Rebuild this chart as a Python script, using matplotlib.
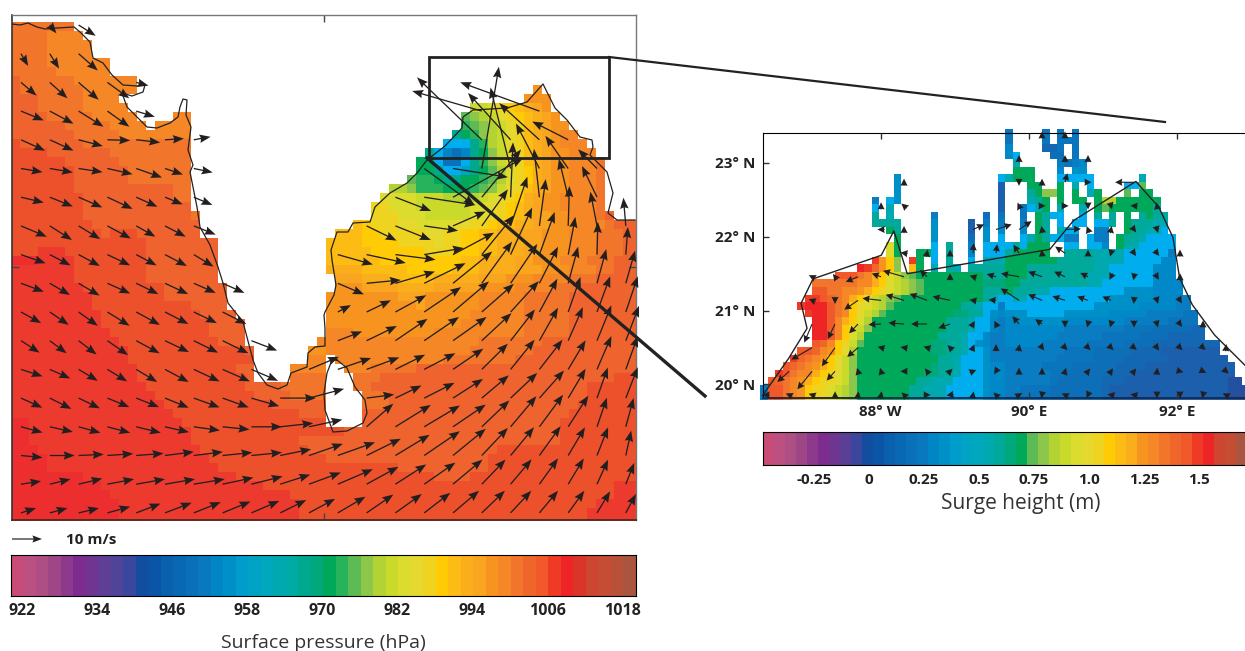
import numpy as np
import matplotlib
matplotlib.use("Agg")
import matplotlib.pyplot as plt
from matplotlib.colors import ListedColormap, BoundaryNorm
from matplotlib.patches import Rectangle

plt.rcParams["font.family"] = ["Open Sans", "DejaVu Sans"]

W, H = 1245, 651
_ = np.nan
CODES = "0123456789abcdefghijklmnopqrstuvwxyzABCDEFGHIJKLMN"

# colour steps of the two bars
pressure_colors = ["#c84b78", "#bc5080", "#ad4f85", "#9e4686", "#8e3a8c", "#7f2c8f", "#6e3591", "#5f3f95", "#4f4498", "#3a479c",
                   "#134da0", "#0a55a5", "#0a60ad", "#0868b3", "#0a70ba", "#0a78be", "#0085c5", "#0090c8", "#009ccc", "#00a3c4",
                   "#00a8bd", "#00a9b0", "#00aaa5", "#00a88e", "#00a87c", "#00a85a", "#27b25c", "#5dbb55", "#8cc64a", "#b3d335",
                   "#c9da2a", "#dcdc2f", "#e5d92f", "#eed420", "#ffcb05", "#fdbc13", "#fbae1c", "#f9a51f", "#f79420", "#f58727",
                   "#f1752b", "#ef662b", "#f1592a", "#ef3a26", "#ee2527", "#db3429", "#cc4630", "#c44d33", "#b9503a", "#a95540"]
surge_colors = ["#c84b78", "#bc5080", "#ad4f85", "#9e4686", "#8e3a8c", "#7f2c8f", "#6e3591", "#5a3f95", "#3a479c", "#134da0",
                "#0a55a5", "#0a60ad", "#0868b3", "#0a70ba", "#0a78be", "#0085c5", "#0090c8", "#009ccc", "#00a3c4", "#00a8bd",
                "#00a9b0", "#00a99a", "#00a87c", "#00a85a", "#5dbb55", "#8cc64a", "#b3d335", "#c9da2a", "#dcdc2f", "#e5d92f",
                "#eed420", "#ffcb05", "#fdbc13", "#fbae1c", "#f79420", "#f58727", "#f1752b", "#ef662b", "#f1592a", "#ef3a26",
                "#ee2527", "#cc4630", "#c44d33", "#a95540"]
pressure_ticks = [922, 934, 946, 958, 970, 982, 994, 1006, 1018]
surge_ticks = [-0.25, 0, 0.25, 0.5, 0.75, 1.0, 1.25, 1.5]
surge_tick_labels = ["-0.25", "0", "0.25", "0.5", "0.75", "1.0", "1.25", "1.5"]

# surface pressure steps per row, letter = colour step, number = run of cells, @n = jump to column n
pressure_rows = [
    "E7", "E4 D4", "E4 D5", "E4 D5", "E4 D7", "E5 D6", "F1 E6 D7",
    "F1 E7 D6 @58 C1",
    "F3 E5 D4 @57 C3",
    "F3 E5 D5 @51 u2 v1 x1 y1 z1 A1 B1 C1",
    "F4 E5 D5 @18 D2 @50 r1 s1 t1 u1 w1 x1 y1 z1 A1 B1 C1",
    "F6 E5 D4 @16 D4 @50 q1 r1 s1 t1 u1 w1 x1 z1 A1 B1 C2",
    "F7 E5 D8 @49 n1 p1 q1 s1 t1 u1 w1 x1 z1 A1 B1 C1 D2",
    "G1 F7 E12 @48 h3 n1 q1 t1 u1 w1 x1 z1 A1 B1 C1 D3",
    "G4 F7 E9 @46 n1 h1 g1 e1 g1 n1 p1 s1 u1 w1 x1 z1 A1 B1 C2 D3",
    "G6 F6 E8 @45 p2 h1 e2 h1 n1 q1 s1 u1 w1 x1 z1 A1 B1 C2 D3 E1",
    "G7 F6 E7 @45 p2 n1 h2 j1 n1 p1 r1 t1 v1 x1 y1 A1 B1 C2 D3 E1",
    "G7 F6 E7 @44 r1 q2 p1 n2 p2 q1 r1 t1 v1 x1 y1 A1 B1 C2 D3 E1",
    "G7 F11 E2 @42 t2 s1 q3 p3 q1 r1 s1 u1 w1 x1 z1 A1 B1 C2 D3 E1",
    "G8 F10 E2 @41 v4 u3 t4 u1 v1 w1 x1 y1 A1 B1 C2 D4 E1",
    "G8 F12 @40 x2 v3 u6 v2 w1 x1 y1 z1 A1 B1 C2 D4 E1",
    "G8 F12 E1 @40 x3 v3 u5 v2 w1 x1 y1 z1 A1 B2 C2 D3 E1 F1",
    "G9 F12 @38 z1 y1 x3 w2 v4 w2 x2 y1 z2 A2 B2 C3 D3 E1 F3",
    "G10 F1 G3 F7 @36 z3 y2 x5 w2 x2 y2 z2 A2 B3 C3 D3 E3 F2",
    "G15 F8 @35 z4 y4 x4 w1 x2 y2 z2 A3 B2 C3 D3 E3 F2",
    "G3 H3 G9 F8 @35 z5 y6 x3 y3 z2 A3 B2 C3 D3 E3 F2",
    "I3 H4 G8 F8 @35 z6 y9 z2 A4 B2 C3 D3 E3 F3",
    "H7 G8 F8 @35 A4 z5 y5 z3 A4 B3 C3 D3 E2 F3",
    "H7 G8 F8 @36 B3 A3 z5 A5 B3 C3 D4 E3 F5",
    "H8 G9 F7 @36 C3 B4 A4 B5 C4 D4 E3 F7",
    "H9 G8 F7 @35 C8 B3 C6 D5 E5 F8",
    "H9 G11 F4 @35 C10 B1 C6 D5 E5 F8",
    "H10 G11 F4 @35 C16 D6 E5 F8",
    "H10 G12 F4 @35 C15 D7 E5 F8",
    "H11 G11 F4 @35 D3 C9 D10 E5 F8",
    "H12 G11 F3 @34 D18 E7 F11",
    "H13 G13 F1 @33 C2 D16 E7 F12",
    "H13 G14 @33 D2 @36 D12 E8 F14",
    "H14 G11 F2 @31 D4 @37 D3 E5 F25",
    "H14 G12 F1 @31 E4 @38 E3 F26 G3",
    "H15 G11 F4 E5 @38 E2 F24 G6",
    "H16 G11 F4 E4 @39 E3 F22 G6",
    "H17 G12 F6 @39 E3 F21 G7",
    "H18 G14 F3 @39 F23 G8",
    "I2 H17 G16 @39 F22 G9",
    "I2 H18 G17 F24 G9",
    "I2 H18 G12 F29 G9",
    "I3 H18 G12 F21 G16",
    "I4 H18 G13 F18 G17",
    "I4 H19 G20 F10 G17",
    "I8 H17 G22 F4 G19",
    "I10 H18 G39 H3",
    "I11 H20 G36 H3",
    "I12 H20 G33 H5",
    "I12 H20 G32 H6",
    "I12 H20 G32 H6",
]

# surge height steps per row, same coding
surge_rows = [
    "@33 d1 @38 d1 @40 d1 @42 d1",
    "@33 d1 @38 d1 @40 d3",
    "@33 f1 @38 b2 @40 d1 @42 d1",
    "@33 f1 h1 @39 c2 @42 d1",
    "@34 k1 @40 e1 d1 e1 f1",
    "@34 n3 @40 f1 @42 g2",
    "@18 g1 @32 h1 k1 n3 @40 h5 @51 k1",
    "@18 g1 @32 a1 @36 n2 @40 n1 @42 k1 @44 h1 @49 h2 o1",
    "@18 g1 @32 a1 @36 l1 n1 p2 n1 @42 n1 @44 k1 n1 @49 o1 @51 n2",
    "@15 e1 @17 h1 g1 @32 a1 @36 k1 l1 n1 @40 n1 @42 n2 @45 n1 q2 n6",
    "@15 h1 @17 k1 @32 a1 @35 d1 h1 k1 n1 @40 k1 @43 k1 @45 n1 o1 n6 l1",
    "@15 l1 @17 k1 @23 e1 @30 c1 @32 d1 @35 d1 @37 n1 l1 h2 @43 h1 @45 l1 @47 l1 @49 n1 @51 l1 n1 l2",
    "@15 l4 @23 g1 @28 a1 @30 e1 @32 e1 @35 e1 @37 n1 l1 @40 h1 @42 h2 @45 h2 l1 @49 n1 l3 k2",
    "@17 n1 l1 @23 g1 @28 a1 @30 g1 @32 f1 @35 f1 @37 n1 l1 @40 k1 h2 @45 e2 @49 n1 l2 k2 h1",
    "@18 n1 @23 g1 @28 c1 @30 g1 @32 h1 @35 h1 k1 n1 l1 h2 e2 @44 h1 e2 @48 n1 l2 k1 h4",
    "@17 s1 n1 @23 h1 @25 l1 @28 e1 @30 h4 l1 h1 n3 @41 h2 @44 h2 f1 @48 n1 l1 k1 h5",
    "@17 s1 n1 @21 n2 h1 @25 l1 @28 f1 @30 h3 l1 n5 @41 l4 k4 h6 e1",
    "@15 D1 y1 v1 p1 @20 D1 n1 @23 h1 @25 l1 @28 h1 @30 k3 n7 l5 k4 h5 f2",
    "@13 E1 D1 B1 y1 v1 p1 @20 w1 n1 @23 k1 @25 l1 k1 @28 l5 n3 l9 k2 h6 f3",
    "@10 C3 A1 z1 x1 v1 t1 r1 p1 o1 n9 l3 n3 l8 k3 h6 f3",
    "@7 A6 z2 x1 v1 s1 r1 q1 p1 o1 n8 m3 n2 l9 k2 h7 f4",
    "@7 C2 A2 z2 y1 x1 v1 u1 s1 r1 q1 p1 o1 n8 l3 n1 l3 k2 h10 g4 f4",
    "@6 D2 C1 B1 A1 z1 x1 v1 t1 r1 q1 p1 o1 n11 l1 k1 h2 k2 h11 g6 f3 e2",
    "@5 D1 E3 C1 A1 z1 v1 t1 s1 r1 q1 o1 n9 l2 k1 h2 e1 h12 g6 f5 e2",
    "@6 D1 E2 C1 A1 z1 v1 t1 r1 q1 o1 n9 m2 l2 h1 g1 f1 g3 h5 g6 f5 e5 d2",
    "@7 E2 C1 z1 x1 v1 s1 q1 n10 l3 k1 h2 f1 e1 f2 g6 f8 e6 d4",
    "@7 E2 C1 z1 v1 t1 r1 p1 n10 l3 k1 h2 f1 e1 f8 e8 d4 c5 b2",
    "@7 E2 C1 z1 v1 s1 q1 n10 l3 k1 h2 f1 e2 f7 e6 d5 c4 b5",
    "@7 C1 B1 z1 v1 u1 r1 o1 n9 m2 l2 k1 h1 g1 f1 e2 f5 e6 d5 c4 b9",
    "@5 C2 B1 z1 y1 v1 t1 q1 n10 m2 l2 k1 h2 g1 e2 e8 d4 c5 b4 a8",
    "@4 D1 B1 A1 z1 y1 v1 t1 r1 p1 n11 l2 k1 h3 g1 e2 e7 d5 c4 b6 a8",
    "@3 C1 B1 A1 z1 y1 x1 v1 t1 r1 p1 n10 m1 l2 k1 h3 g1 f2 e5 d4 c6 b4 a12",
    "@2 D1 C1 A1 z2 x1 v1 u1 s1 r1 p1 n9 m2 l2 k1 h3 g1 f2 e6 d2 c6 b3 a14",
    "@1 C1 B1 A1 z1 y1 x1 v1 u2 s1 r1 p1 n8 l2 k3 h4 g1 f2 e6 d1 c6 b3 a14 92",
    "@0 e1 C2 A1 z1 y1 v1 u2 s1 r1 q1 p1 n7 l2 k3 h5 g1 f2 e2 d4 c7 b1 a16 93",
    "@0 e1 C2 A1 z1 y1 v1 u2 s1 r1 q1 p1 n7 l2 k3 h5 g1 f2 e2 d4 c7 b1 a16 93",
]

# wind on the large map, m/s, 18 rows of 22
wind_u = [
    [_, 2.2, 5.7] + [_]*19,
    [2.4, 3.1, 6.4] + [_]*19,
    [5.2, 5.9, 6.7, 7.3, 4.1] + [_]*17,
    [7.6, 7.9, 8.3, 7.3, 6.2] + [_]*11 + [-23.2, _, -26.4, _, _, _],
    [8, 7.9, 8.1, 7.6, 8, 6.3, 5.6] + [_]*9 + [-21.6, -14.2, -13.4, -12, _, _],
    [7.2, 7.7, 8, 8.4, 8.6, 6, 6.3] + [_]*7 + [16.8, 18.3, 5.7, -6.7, -7.8, -7.6, -6.3, _],
    [7.6, 7.7, 7.9, 8.4, 7.1, 5.9, 6.2] + [_]*6 + [11.9, 17.1, 23.3, 13.1, 0.8, -1.8, -3.1, -5, _],
    [8.6, 7.4, 7.2, 7.8, 6.4, 6.9, 7.3] + [_]*5 + [10, 11.8, 11.3, 10.9, 8.7, 5.6, 2.1, 0.4, -2.2, -0.8],
    [8.2, 6.9, 7.1, 7.6, 6.8, 7.3, 6.6] + [_]*4 + [11.7, 13.1, 13.4, 13.2, 13.7, 10.7, 7.2, 5.1, 2.4, 0.3, 0.7],
    [7.6, 6.7, 7, 7.6, 7.4, 7.7, 7.3, 7.3] + [_]*3 + [8.7, 11.4, 13.2, 13.8, 13.1, 10.1, 8.9, 6.2, 3.3, 3.1, 3.1],
    [6.7, 6.3, 6.4, 7.4, 7.9, 7.8, 7.7, 7.9] + [_]*3 + [4.4, 8.1, 10.3, 12.3, 12, 10.7, 9.4, 6, 4.1, 4.4, 4],
    [6.2, 5.6, 6, 6.9, 7.8, 8, 8.1, 8.6, 8.6, _, _, 8.1, 10.1, 10.7, 11.6, 11.2, 9.9, 8.1, 6.2, 4.9, 4.8, 4.4],
    [7.2, 6.8, 6.4, 6.6, 7, 7.9, 8.6, 9.1, 8.9, _, 10, 11.1, 10.9, 9.9, 10.4, 10.1, 8.7, 8, 7.7, 5.8, 4.8, 4],
    [7.1, 7.2, 7.1, 7.3, 7.6, 7.9, 8.6, 8.7, 9.3, 11.9, 11.7, _, 9.2, 8.7, 10.1, 10, 9, 8.9, 8.2, 5.8, 3.6, 4],
    [7.2, 7.7, 7.3, 7.6, 8.2, 8, 8.7, 9, 10.2, 11, 11.1, _, 8.9, 11.8, 11.9, 10.9, 9.2, 8.6, 7.9, 6.7, 3.3, 2.6],
    [7.2, 8.3, 8.4, 8.6, 9.1, 9.6, 9.7, 9.9, 10.2, 10.3, 11.3, 12.4, 11.4, 11.4, 11.9, 10.9, 8.7, 7.8, 7.1, 5.6, 3.7, 1.8],
    [6.7, 6.9, 7.9, 8.9, 9.6, 10, 10.3, 10.3, 10.4, 10, 10.6, 11.7, 10.6, 10.3, 10.4, 9.8, 7.9, 7, 6.2, 5.2, 3.7, 2.8],
    [5, 5.9, 6.8, 7.6, 8.1, 8.9, 9, 9.3, 9.3, 8.7, 8.7, 9.2, 8.9, 8.8, 8.7, 8.7, 7.7, 6.9, 6.2, 5.4, 4.4, 3.4],
]
wind_v = [
    [_, -2.8, -3.6] + [_]*19,
    [-4.1, -5, -5.6] + [_]*19,
    [-4.4, -5.3, -5.8, -5.3, -1.1] + [_]*17,
    [-3.1, -4.2, -5.2, -5.2, -1.9] + [_]*11 + [6.7, _, 9.6, _, _, _],
    [-3.6, -3.6, -2.1, -0.2, -0.9, 0.4, 1] + [_]*9 + [20.8, 15.6, 12.2, 6.1, _, _],
    [-1.2, -1.3, -1.2, -1.9, -3, -2, -1.3] + [_]*7 + [-12.2, -2.9, 33.9, 27, 15, 10.9, 6.4, _],
    [-1.8, -3.1, -3.4, -3.9, -3.2, -2.4, -2.6] + [_]*6 + [-4.6, -2.6, 13, 15.9, 18.3, 16.1, 12.8, 10.4, _],
    [-3.6, -4.7, -4.4, -4.2, -3.6, -3.6, -2.9] + [_]*5 + [-4.9, -4.7, -1.6, 4.8, 12.2, 16.4, 15.6, 13.3, 11.4, 9.4],
    [-2.9, -3.6, -3.8, -3.6, -3.6, -3.8, -4] + [_]*4 + [-3.3, -2.8, -1.7, 2.2, 7.3, 13.1, 15.7, 14.2, 12.6, 10.9, 9.2],
    [-2.8, -3.9, -4.1, -3.4, -3.6, -3.6, -3.2, -3.2] + [_]*3 + [-3.7, 1.1, 3.9, 6.7, 10.6, 13.9, 13.1, 12.2, 12.2, 11.4, 10.9],
    [-3.7, -4.3, -4.6, -4.6, -4.3, -4, -3.7, -4] + [_]*3 + [2.3, 3.9, 5.6, 8.3, 10.2, 9.4, 10.3, 11.1, 11.7, 11.9, 11.9],
    [-4, -4.2, -4.6, -4.8, -4.2, -3.8, -4, -4.2, -3.3, _, _, 3.1, 4.9, 7.3, 7.9, 7.9, 9.2, 10.4, 11, 11.2, 11.8, 11.6],
    [-2.3, -3, -3.8, -4, -4.2, -4.2, -4, -4, -3.8, _, 4.2, 3.8, 4, 4.9, 5.4, 6.9, 8.6, 9.9, 9.9, 9.7, 11.1, 11.1],
    [-3.2, -3.6, -3.4, -3, -3, -3.2, -3.1, -3.1, -2.7, 0, 3.1, _, 1.2, 4.2, 5.1, 6.4, 7.6, 8.4, 9.2, 9.8, 10.2, 10.3],
    [-1.9, -1.7, -2, -2, -2, -1.8, -1.2, -0.9, 0, 1.2, 2.4, _, 7.7, 7.3, 7.1, 7.4, 8.8, 10.2, 10.7, 10.4, 9.7, 9.6],
    [-0.7, 0, 0.4, 0.6, 0.7, 1.2, 1.2, 1, 1, 2.1, 3.9, 4.4, 5.6, 6.9, 8.1, 8.9, 9.2, 9.4, 9.8, 9.4, 9.4, 8.3],
    [1, 1.7, 1.9, 1.7, 1.7, 1.7, 1.7, 2.2, 2.6, 3.2, 3.9, 5, 5.8, 6.6, 7.2, 8.2, 8.2, 8.3, 8.6, 8.6, 8.2, 7.1],
    [1.6, 1.6, 1.6, 2.1, 3.1, 3.4, 3.6, 3.8, 4, 4.3, 4.7, 5.4, 6.1, 6.3, 6.7, 7.4, 7.4, 7.4, 7.4, 7.4, 7.2, 6.3],
]

# wind on the inset, m/s, 12 rows of 21
inset_u = [
    [_]*12 + [0, 0] + [_]*7,
    [_]*11 + [0, _, 0, 0] + [_]*6,
    [_]*6 + [0] + [_]*4 + [0, 0, 0.8, 1, _, -6.3, _, _, _, _],
    [_]*5 + [0, -0.8] + [_]*4 + [-0.5, 1, 1, 0, 0.3, -1.1, -0.2, _, _, _],
    [_]*5 + [-1.2, 0, _, _, 3.7, 5.2, 4.2, -0.2, 5.3, -0.4, 0.2, 0.6, 0.3, _, _, _],
    [_]*6 + [-1.2, 0.2, 0, 0.2, 0.4, -1.9, -0.1, -3.3, 0, -0.3, 0.7, 0.7, 0, _, _],
    [_, _, -1, -0.6, -4.1, -3.1, -7, -2.4, 0, -1, -3.1, -6, -4.6, -3.6, -2.6, -0.5, -0.2, 0.6, 0, _, _],
    [_, _, -0.8, 0, -4.6, -6.2, -6.1, -5.8, -5.8, -1.7, -2.5, -6.1, -4.6, -4.2, -3.6, -2.9, -0.1, 0.3, 0.6, _, _],
    [_, _, -2.6, -2.4, -3, -4.2, -5.2, -5.3, -3.9, 0.6, -0.5, -2.2, -2.3, 0, -0.3, -0.3, 0, 0.3, 0.7, 0, _],
    [_, _, -6.9, -4.4, -3.6, -1.2, -1.2, -1.1, -0.8, 0.4, 0, 0.2, 0.6, 0.8, 0.8, 0.8, 0.9, 0.7, 0.8, 0.9, 0.1],
    [_, -3.9, -4.9, -2.8, -0.3, -0.3, -1.2, -0.6, 0.8, 1, -0.6, 0, 0, 0.3, 0.7, 0.6, 0.7, 0.1, 0.7, 0.9, 0.9],
    [-1.2, -1.2, -1.2, 0, 0.1, 0.2, -0.9, 1.2, -1.2, 0.2, -0.8, 1, -0.2, -1, -0.4, -1.1, -1.1, 0, 0, -0.3, -1],
]
inset_v = [
    [_]*12 + [1.2, 1.2] + [_]*7,
    [_]*11 + [1.2, _, 1.2, 1.2] + [_]*6,
    [_]*6 + [1.2] + [_]*4 + [-1.2, 1.2, 3, 0, _, 0, _, _, _, _],
    [_]*5 + [1.2, 0.7] + [_]*4 + [1.1, 0, 0, -1.2, -1, 0.1, 1.1, _, _, _],
    [_]*5 + [0, 1.2, _, _, 1.7, 1.7, 2.8, 1.1, 0.2, 1, 1.1, -0.8, -1, _, _, _],
    [_]*6 + [0.2, 1, 1.2, 3.3, 3, 2.8, 1.2, 2.2, 1.2, -1.1, -1, -0.9, 1.2, _, _],
    [_, _, 0.5, 0.8, -1.7, 1.1, 2, 2.2, 1, 0.3, 0.9, 1.1, 1.7, 1.7, 1.3, -1, -1, -1, 1.2, _, _],
    [_, _, 0.3, -1.2, -3.1, 0.7, 1.9, 2.2, 1.3, 0.3, 0.2, 4, 2, 1.4, 1.3, 1.3, -1.1, -1, -1, _, _],
    [_, _, -6.2, -5, -3.1, -0.2, 0.4, 0, -1.4, 1, 1, 2.6, 1.6, -1.1, -1.1, -1, -1.1, -1.1, -0.9, 1.2, _],
    [_, _, -4, -6.2, -3.1, 0.3, 0.2, 0.3, 0.8, 1, 1.2, 1.2, -0.8, -0.8, -0.8, -0.8, -0.7, -0.9, -0.8, -0.8, 1.2],
    [_, -3.6, -6, -3.1, 1, 1, 0, 0.8, 0.8, 0.4, -0.9, 1.2, 1.2, 1, 0.9, 0.9, 0.9, 1.2, -0.2, -0.4, -0.8],
    [0, 0.5, 0.4, 1.2, 1.2, 1.2, 0.9, 0, -0.2, 1.2, 0.8, 0.6, -1.2, 0.5, -1, 0.2, 0.2, -1.2, -1.2, -1.2, 0.5],
]

# coast lines
coast_x = [12, 20, 28, 37, 45, 57, 74, 80, 90, 93, 103, 112, 123, 137, 145, 143, 132, 122, 127, 137, 147, 157, 170, 178, 180, 183,
           187, 186, 191, 188, 193, 190, 197, 200, 210, 218, 223, 228, 243, 253, 258, 267, 278, 287, 291, 307, 308, 315, 325, 325,
           324, 325, 334, 336, 332, 331, 337, 348, 353, 370, 375, 390, 407, 417, 427, 445, 462, 463, 473, 507, 527, 543, 555, 567,
           580, 592, 593, 590, 607, 613, 608, 617, 635]
coast_y = [24, 25, 23, 27, 29, 28, 27, 32, 42, 58, 63, 75, 85, 86, 85, 92, 96, 93, 107, 117, 127, 128, 123, 117, 107, 99,
           100, 115, 127, 150, 165, 172, 207, 227, 245, 267, 283, 303, 322, 360, 373, 385, 389, 385, 373, 367, 353, 347, 346, 328,
           315, 312, 295, 285, 260, 250, 232, 232, 223, 222, 207, 193, 183, 173, 160, 146, 128, 117, 110, 108, 102, 84, 108, 120,
           137, 140, 147, 155, 172, 193, 213, 220, 220]
lanka_x = [337, 347, 355, 365, 367, 363, 347, 333, 325, 324, 327, 332, 337]
lanka_y = [360, 368, 387, 400, 413, 423, 431, 432, 410, 393, 373, 360, 360]
inset_coast_lon = [86.41, 86.76, 87.01, 86.93, 87.09, 88.01, 88.18, 88.36, 90.28, 90.60, 91.44, 91.75, 91.94, 92.03, 92.20, 92.50, 92.91]
inset_coast_lat = [19.85, 20.35, 20.76, 21.10, 21.43, 21.75, 22.08, 21.50, 21.83, 22.22, 22.75, 22.40, 21.99, 21.44, 21.08, 20.67, 20.26]


def parse_rows(rows, n_cols):
    grid = np.full((len(rows), n_cols), np.nan)
    for r, row in enumerate(rows):
        c = 0
        for tok in row.split():
            if tok[0] == "@":
                c = int(tok[1:])
            else:
                n = int(tok[1:])
                grid[r, c:c + n] = CODES.index(tok[0])
                c += n
    return grid


def px_axes(l, t, r, b):
    return fig.add_axes([l / W, 1 - b / H, (r - l) / W, (b - t) / H])


fig = plt.figure(figsize=(W / 100, H / 100), dpi=100)

# large map
press_edges = 920.24 + 2.0 * np.arange(51)
map_press_colors = list(pressure_colors)
map_press_colors[17] = "#00aeef"
map_press_colors[41] = "#ef642e"
map_press_colors[42] = "#ec512b"
map_press_colors[43] = "#ec3a2e"
map_press_colors[44] = "#ed2e2e"
press_cmap = ListedColormap(map_press_colors)
press_norm = BoundaryNorm(press_edges, 50)

ax = px_axes(12, 15, 636, 520)
ax.set_xlim(12, 636)
ax.set_ylim(520, 15)
press = press_edges[0] + 1 + 2 * parse_rows(pressure_rows, 70)
ax.pcolormesh(11 + 9.0 * np.arange(71), 22 + 9.0 * np.arange(len(pressure_rows) + 1),
              np.ma.masked_invalid(press), cmap=press_cmap, norm=press_norm, linewidth=0)
ax.plot(coast_x, coast_y, color="#222222", lw=0.9, zorder=3)
ax.plot(lanka_x, lanka_y, color="#222222", lw=0.9, zorder=3)
qx, qy = np.meshgrid(21 + 28.8 * np.arange(22), 25 + 28.7 * np.arange(18))
ax.quiver(qx, qy, np.array(wind_u), np.array(wind_v), angles="uv", scale_units="dots", scale=1 / 3, units="dots",
          width=1.3, headwidth=6.5, headlength=8.5, headaxislength=7.5, minshaft=0.05, minlength=0,
          color="#231f20", zorder=4, clip_on=False)
ax.set_xticks([324])
ax.set_yticks([267])
ax.tick_params(direction="in", length=5, width=1, top=True, right=True, labelleft=False, labelbottom=False, color="#444444")
for side, col, lw in [("left", "#333333", 1.2), ("bottom", "#5a2a20", 1.4), ("top", "#777777", 1.0), ("right", "#777777", 1.0)]:
    ax.spines[side].set_color(col)
    ax.spines[side].set_linewidth(lw)

# inset
surge_edges = -0.482 + 0.05 * np.arange(45)
map_surge_colors = list(surge_colors)
map_surge_colors[9] = "#24509f"
map_surge_colors[10] = "#1c5fac"
map_surge_colors[11] = "#1468b3"
map_surge_colors[12] = "#0d6fb8"
map_surge_colors[13] = "#0a75bc"
map_surge_colors[14] = "#0a7cc1"
map_surge_colors[15] = "#0088c9"
map_surge_colors[17] = "#00aeef"
surge_cmap = ListedColormap(map_surge_colors)
surge_norm = BoundaryNorm(surge_edges, 44)

ins = px_axes(762.5, 133, 1245, 398)
ins.set_xlim(86.41, 92.91)
ins.set_ylim(19.817, 23.406)
surge = surge_edges[0] + 0.025 + 0.05 * parse_rows(surge_rows, 66)
ins.pcolormesh(86.382 + 0.0999 * np.arange(67), 23.46 - 0.1019 * np.arange(len(surge_rows) + 1),
               np.ma.masked_invalid(surge), cmap=surge_cmap, norm=surge_norm, linewidth=0, clip_on=False)
ins.plot(inset_coast_lon, inset_coast_lat, color="#222222", lw=1.0, zorder=3, clip_on=False)
ix, iy = np.meshgrid(86.458 + 0.3098 * np.arange(21), 23.379 - 0.32 * np.arange(12))
iu, iv = np.array(inset_u), np.array(inset_v)
speed = np.hypot(iu, iv)
# below this speed the arrow is only its head, so draw it as a centred head
head_only = 2.4
is_short = speed < head_only
arrow_style = dict(angles="uv", scale_units="dots", scale=1 / 3, units="dots", width=1.1, headwidth=6.5, headlength=6.5,
                   headaxislength=6, minshaft=0.05, minlength=0, color="#231f20", zorder=4, clip_on=False)
ins.quiver(ix[~is_short], iy[~is_short], iu[~is_short], iv[~is_short], **arrow_style)
ins.quiver(ix[is_short], iy[is_short], iu[is_short] / speed[is_short] * head_only, iv[is_short] / speed[is_short] * head_only,
           pivot="mid", **arrow_style)
ins.set_xticks([88, 90, 92])
ins.set_xticklabels(["88° W", "90° E", "92° E"], fontweight="bold", fontsize=11, color="#222222")
ins.set_yticks([20, 21, 22, 23])
ins.set_yticklabels(["20° N", "21° N", "22° N", "23° N"], fontweight="bold", fontsize=11, color="#222222")
ins.tick_params(direction="in", length=4, width=1, top=True, pad=5, color="#333333")
ins.spines["right"].set_visible(False)
ins.spines["bottom"].set_color("#1d2b4a")
ins.spines["bottom"].set_linewidth(1.4)
ins.set_axisbelow(False)

# colour bars
cb1 = px_axes(11, 555, 636, 596)
cb1.pcolormesh(press_edges, [0, 1], np.array([press_edges[:-1] + 1]), cmap=ListedColormap(pressure_colors), norm=press_norm)
cb1.set_xlim(press_edges[0], press_edges[-1])
cb1.set_yticks([])
cb1.set_xticks(pressure_ticks)
cb1.set_xticklabels([str(t) for t in pressure_ticks], fontweight="bold", fontsize=11.5, color="#222222")
cb1.tick_params(length=0, pad=5)
cb1.set_xlabel("Surface pressure (hPa)", fontsize=14, color="#333333", labelpad=11)

cb2 = px_axes(763, 432, 1245, 465)
cb2.pcolormesh(surge_edges, [0, 1], np.array([surge_edges[:-1] + 0.025]), cmap=ListedColormap(surge_colors), norm=surge_norm)
cb2.set_xlim(surge_edges[0], surge_edges[0] + 482 / 220)
cb2.set_yticks([])
cb2.set_xticks(surge_ticks)
cb2.set_xticklabels(surge_tick_labels, fontweight="bold", fontsize=11, color="#222222")
cb2.tick_params(length=0, pad=6)
cb2.set_xlabel("Surge height (m)", fontsize=15, color="#333333", x=0.535, labelpad=4)
cb2.spines["right"].set_visible(False)

# overlay: zoom box, leader lines, speed key
top = fig.add_axes([0, 0, 1, 1], zorder=10)
top.set_xlim(0, W)
top.set_ylim(H, 0)
top.axis("off")
top.add_patch(Rectangle((429, 57), 180, 101, fill=False, ec="#222222", lw=2.0))
top.plot([609, 1165], [57, 122], color="#222222", lw=1.6)
top.plot([427, 705], [158, 396], color="#222222", lw=2.4)
top.quiver([12], [539], [10], [0], angles="uv", scale_units="dots", scale=1 / 3, units="dots",
           width=1.2, headwidth=6, headlength=8, headaxislength=7, color="#222222")
top.text(66, 540, "10 m/s", fontweight="bold", fontsize=11, va="center", color="#222222")

fig.savefig("out.png", dpi=100)
